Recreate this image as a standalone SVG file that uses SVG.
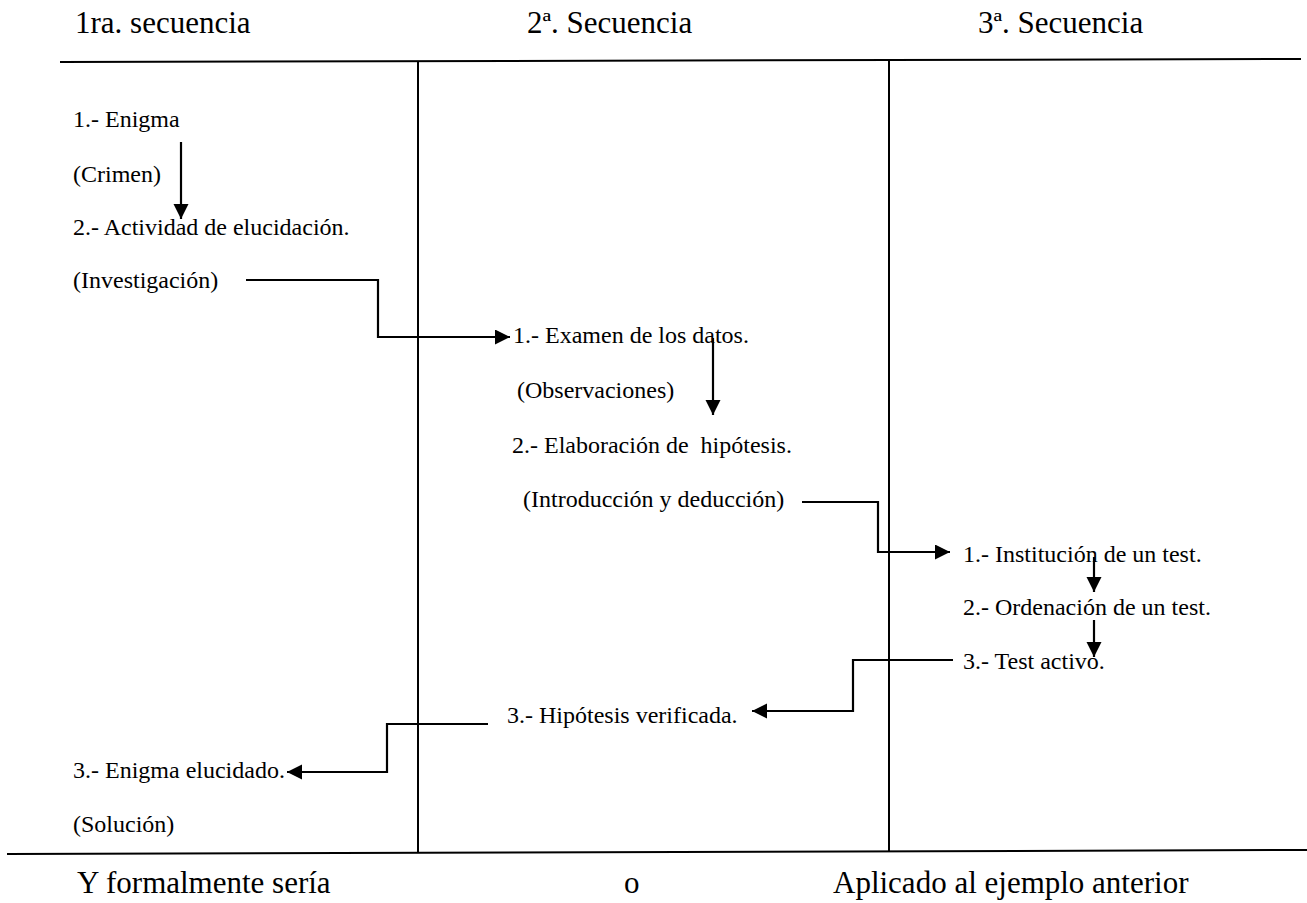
<svg xmlns="http://www.w3.org/2000/svg" width="1307" height="903" viewBox="0 0 1307 903">
  <style>
    text { font-family: 'Liberation Serif', 'DejaVu Serif', serif; fill: #000; }
    .head { font-size: 31px; }
    .item { font-size: 24px; }
    .rule { stroke: #000; stroke-width: 2; fill: none; }
    .conn { stroke: #000; stroke-width: 2.2; fill: none; }
  </style>
  <defs>
    <marker id="arrow" markerUnits="userSpaceOnUse" markerWidth="16" markerHeight="16" refX="15" refY="7.5" orient="auto">
      <path d="M0,0 L15,7.5 L0,15 Z" fill="#000"/>
    </marker>
  </defs>
  <rect width="1307" height="903" fill="#fff"/>

  <!-- table frame -->
  <g id="frame">
    <line class="rule" x1="60" y1="62" x2="1301" y2="59"/>
    <line class="rule" x1="7" y1="854" x2="1307" y2="850"/>
    <line class="rule" x1="418" y1="62" x2="418" y2="853"/>
    <line class="rule" x1="889" y1="61" x2="889" y2="852"/>
  </g>

  <!-- column headings -->
  <g id="headers" font-family="Liberation Serif, serif">
    <text class="head" x="75" y="33">1ra. secuencia</text>
    <text class="head" x="527" y="33">2ª. Secuencia</text>
    <text class="head" x="978" y="33">3ª. Secuencia</text>
  </g>

  <!-- first sequence -->
  <g id="seq1">
    <text class="item" x="73" y="127">1.- Enigma</text>
    <text class="item" x="73" y="182">(Crimen)</text>
    <text class="item" x="73" y="235">2.- Actividad de elucidación.</text>
    <text class="item" x="73" y="288">(Investigación)</text>
    <text class="item" x="73" y="778">3.- Enigma elucidado.</text>
    <text class="item" x="73" y="832">(Solución)</text>
  </g>

  <!-- second sequence -->
  <g id="seq2">
    <text class="item" x="513" y="343">1.- Examen de los datos.</text>
    <text class="item" x="517" y="398">(Observaciones)</text>
    <text class="item" x="512" y="453" xml:space="preserve">2.- Elaboración de  hipótesis.</text>
    <text class="item" x="523" y="507">(Introducción y deducción)</text>
    <text class="item" x="507" y="723">3.- Hipótesis verificada.</text>
  </g>

  <!-- third sequence -->
  <g id="seq3">
    <text class="item" x="963" y="562">1.- Institución de un test.</text>
    <text class="item" x="963" y="615">2.- Ordenación de un test.</text>
    <text class="item" x="963" y="669">3.- Test activo.</text>
  </g>

  <!-- footer -->
  <g id="footer">
    <text class="head" x="77" y="893">Y formalmente sería</text>
    <text class="head" x="624" y="893">o</text>
    <text class="head" x="833" y="893">Aplicado al ejemplo anterior</text>
  </g>

  <!-- arrows between steps -->
  <g id="connectors">
    <polyline class="conn" points="181,142 181,219" marker-end="url(#arrow)"/>
    <polyline class="conn" points="246,280 378,280 378,337 510,337" marker-end="url(#arrow)"/>
    <polyline class="conn" points="713,338 713,415" marker-end="url(#arrow)"/>
    <polyline class="conn" points="802,502 878,502 878,552 950,552" marker-end="url(#arrow)"/>
    <polyline class="conn" points="1094,557 1094,592" marker-end="url(#arrow)"/>
    <polyline class="conn" points="1094,620 1094,657" marker-end="url(#arrow)"/>
    <polyline class="conn" points="953,660 853,660 853,711 752,711" marker-end="url(#arrow)"/>
    <polyline class="conn" points="488,724 387,724 387,772 287,772" marker-end="url(#arrow)"/>
  </g>
</svg>
